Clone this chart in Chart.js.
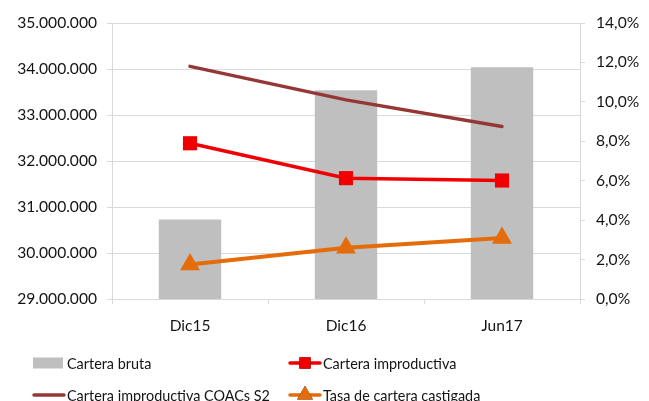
<!DOCTYPE html>
<html>
<head>
<meta charset="utf-8">
<script src="https://cdn.jsdelivr.net/npm/chart.js@4/dist/chart.umd.min.js"></script>
<style>
  html, body { margin: 0; padding: 0; background: #fff; }
  #wrap { width: 649px; height: 401px; position: relative; }
</style>
</head>
<body>
<div id="wrap"><canvas id="chart"></canvas></div>
<script>
const categories = ["Dic15", "Dic16", "Jun17"];
const carteraBruta = [30730000, 33540000, 34040000];
const carteraImproductiva = [7.9, 6.13, 6.01];
const improductivaCOACs = [11.8, 10.1, 8.75];
const tasaCastigada = [1.75, 2.6, 3.1];
const leftTicks = [29000000, 30000000, 31000000, 32000000, 33000000, 34000000, 35000000];
const rightTicks = [0, 2, 4, 6, 8, 10, 12, 14];

const FONT = "Lato, 'Liberation Sans', sans-serif";
const GRID = "#d9d9d9";
const TXT = "#141414";

const fmtMiles = v => Math.round(v).toString().replace(/\B(?=(\d{3})+(?!\d))/g, ".");
const fmtPct = v => v.toFixed(1).replace(".", ",") + "%";

// legend drawn in two columns like the original
const legendPlugin = {
  id: "twoColLegend",
  afterDraw(chart) {
    const ctx = chart.ctx;
    const ds = chart.data.datasets;
    const slots = [
      { i: 0, x: 33, y: 363 },
      { i: 1, x: 289, y: 363 },
      { i: 2, x: 33, y: 395 },
      { i: 3, x: 289, y: 395 }
    ];
    ctx.save();
    ctx.font = "14.4px " + FONT;
    ctx.textBaseline = "middle";
    slots.forEach(s => {
      const d = ds[s.i];
      if (d.type === "bar") {
        ctx.fillStyle = d.backgroundColor;
        ctx.fillRect(s.x, s.y - 5.5, 30, 11);
      } else {
        ctx.strokeStyle = d.borderColor;
        ctx.lineWidth = 3.5;
        ctx.lineCap = "round";
        ctx.beginPath();
        ctx.moveTo(s.x + 1, s.y);
        ctx.lineTo(s.x + 31, s.y);
        ctx.stroke();
        if (d.pointStyle && d.pointRadius > 0) {
          Chart.helpers.drawPoint(ctx, {
            pointStyle: d.pointStyle,
            radius: d.pointRadius * 0.8,
            borderWidth: 0
          }, s.x + 16, s.y);
          ctx.fillStyle = d.pointBackgroundColor;
          ctx.fill();
        }
      }
      ctx.fillStyle = TXT;
      ctx.fillText(d.label, s.x + 34, s.y + 1);
    });
    ctx.restore();
  }
};

new Chart(document.getElementById("chart"), {
  data: {
    labels: categories,
    datasets: [
      {
        type: "bar",
        label: "Cartera bruta",
        data: carteraBruta,
        backgroundColor: "#bfbfbf",
        yAxisID: "y",
        barPercentage: 0.4,
        categoryPercentage: 1,
        order: 5
      },
      {
        type: "line",
        label: "Cartera improductiva",
        data: carteraImproductiva,
        borderColor: "#f00000",
        backgroundColor: "#f00000",
        pointBackgroundColor: "#f00000",
        pointBorderWidth: 0,
        borderWidth: 3.5,
        pointStyle: "rect",
        pointRadius: 10,
        yAxisID: "y1",
        order: 2
      },
      {
        type: "line",
        label: "Cartera improductiva COACs S2",
        data: improductivaCOACs,
        borderColor: "#953735",
        backgroundColor: "#953735",
        borderWidth: 3.5,
        borderCapStyle: "round",
        pointRadius: 0,
        yAxisID: "y1",
        order: 3
      },
      {
        type: "line",
        label: "Tasa de cartera castigada",
        data: tasaCastigada,
        borderColor: "#e46c0a",
        backgroundColor: "#e46c0a",
        pointBackgroundColor: "#e46c0a",
        pointBorderWidth: 0,
        borderWidth: 4,
        pointStyle: "triangle",
        pointRadius: 11.5,
        yAxisID: "y1",
        order: 1
      }
    ]
  },
  options: {
    responsive: true,
    maintainAspectRatio: false,
    animation: false,
    layout: { padding: { top: 23, left: 0, right: 0, bottom: 0 } },
    plugins: {
      legend: { display: false },
      tooltip: { enabled: false }
    },
    scales: {
      x: {
        grid: { offset: true, drawOnChartArea: false, color: GRID, tickLength: 5 },
        border: { color: GRID },
        ticks: { color: TXT, font: { family: FONT, size: 15.5 }, padding: 13 },
        afterFit(scale) { scale.height = 102; }
      },
      y: {
        position: "left",
        min: leftTicks[0],
        max: leftTicks[leftTicks.length - 1],
        afterBuildTicks(scale) { scale.ticks = leftTicks.map(v => ({ value: v })); },
        grid: { color: GRID, tickLength: 5 },
        border: { color: GRID },
        ticks: { color: TXT, font: { family: FONT, size: 15.6 }, padding: 10, callback: v => fmtMiles(v) },
        afterFit(scale) { scale.width = 112; }
      },
      y1: {
        position: "right",
        min: rightTicks[0],
        max: rightTicks[rightTicks.length - 1],
        afterBuildTicks(scale) { scale.ticks = rightTicks.map(v => ({ value: v })); },
        grid: { drawOnChartArea: false, color: GRID, tickLength: 5 },
        border: { color: GRID },
        ticks: { color: TXT, font: { family: FONT, size: 15.6 }, padding: 11, callback: v => fmtPct(v) },
        afterFit(scale) { scale.width = 69; }
      }
    }
  },
  plugins: [legendPlugin]
});
</script>
</body>
</html>
